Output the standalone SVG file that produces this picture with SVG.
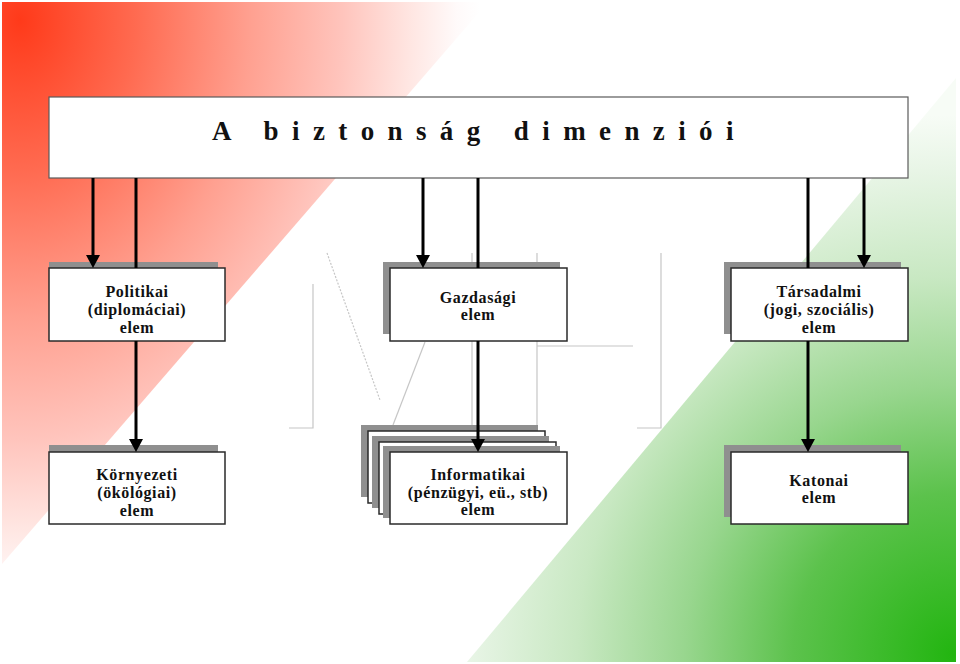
<svg xmlns="http://www.w3.org/2000/svg" width="960" height="664" viewBox="0 0 960 664">
<style>
.box{fill:#fff;stroke:#2a2a2a;stroke-width:1.5}
.sh{fill:#8f8f8f}
.lbl{font-family:"Liberation Serif","Times New Roman",serif;font-weight:bold;font-size:16px;letter-spacing:0.6px;fill:#111;text-anchor:middle}
.wm{fill:none;stroke:#c6c6c6;stroke-width:1.2}
.con{fill:none;stroke:#000;stroke-width:3;marker-end:url(#ah)}
</style>
<defs>
<radialGradient id="red" gradientUnits="userSpaceOnUse" cx="20" cy="20" r="460" gradientTransform="translate(20 20) scale(1 1.3) translate(-20 -20)">
<stop offset="0" stop-color="#ff3a1a"/>
<stop offset="0.25" stop-color="#ff6a50"/>
<stop offset="0.5" stop-color="#ffa090"/>
<stop offset="0.7" stop-color="#ffc4bc"/>
<stop offset="0.85" stop-color="#ffe6e2"/>
<stop offset="0.95" stop-color="#fffafa"/>
<stop offset="1" stop-color="#ffffff"/>
</radialGradient>
<radialGradient id="green" gradientUnits="userSpaceOnUse" cx="955" cy="655" r="540">
<stop offset="0" stop-color="#22b510"/>
<stop offset="0.3" stop-color="#5cc24c"/>
<stop offset="0.5" stop-color="#98d68e"/>
<stop offset="0.7" stop-color="#c8e8c2"/>
<stop offset="0.9" stop-color="#e8f5e6"/>
<stop offset="1" stop-color="#f7fcf6"/>
</radialGradient>
<marker id="ah" markerUnits="userSpaceOnUse" markerWidth="14" markerHeight="14" refX="7" refY="7" orient="auto">
<path d="M0,0 L13,7 L0,14 Z" fill="#000"/>
</marker>
</defs>
<rect width="960" height="664" fill="#fff"/>
<polygon points="2,2 488,2 2,564" fill="url(#red)"/>
<polygon points="956,78 956,662 467,662" fill="url(#green)"/>
<g id="watermark">
<path class="wm" d="M313 284 V428 H289"/>
<path class="wm" d="M327 253 L380 400" stroke-dasharray="2 1.5"/>
<path class="wm" d="M425 342 L393 425"/>
<path class="wm" d="M472 253 V425"/>
<path class="wm" d="M537 253 V428 M537 346 H633"/>
<path class="wm" d="M661 253 V428 H637"/>
</g>
<g id="title">
<rect x="49" y="97" width="859" height="81" fill="#fff" stroke="#5a5a5a" stroke-width="1.2"/>
<text x="212" y="140" font-family="'Liberation Serif','Times New Roman',serif" font-weight="bold" font-size="27" letter-spacing="13.4" fill="#111">A biztonság dimenziói</text>
</g>
<g id="politikai">
<rect class="sh" x="49" y="262" width="169" height="72"/>
<rect class="box" x="49" y="268" width="176" height="73"/>
<text class="lbl" x="137" y="297">Politikai</text>
<text class="lbl" x="137" y="315">(diplomáciai)</text>
<text class="lbl" x="137" y="333">elem</text>
</g>
<g id="gazdasagi">
<rect class="sh" x="383" y="262" width="177" height="72"/>
<rect class="box" x="390" y="268" width="177" height="73"/>
<text class="lbl" x="478" y="303">Gazdasági</text>
<text class="lbl" x="478" y="320">elem</text>
</g>
<g id="tarsadalmi">
<rect class="sh" x="724" y="262" width="177" height="72"/>
<rect class="box" x="731" y="268" width="177" height="73"/>
<text class="lbl" x="819" y="297">Társadalmi</text>
<text class="lbl" x="819" y="315">(jogi, szociális)</text>
<text class="lbl" x="819" y="333">elem</text>
</g>
<g id="kornyezeti">
<rect class="sh" x="49" y="445" width="169" height="72"/>
<rect class="box" x="49" y="452" width="176" height="72"/>
<text class="lbl" x="137" y="480">Környezeti</text>
<text class="lbl" x="137" y="498">(ökölógiai)</text>
<text class="lbl" x="137" y="516">elem</text>
</g>
<g id="informatikai">
<rect class="sh" x="361" y="425" width="177" height="72"/>
<rect class="box" x="368" y="431" width="177" height="72"/>
<rect class="sh" x="372" y="436" width="177" height="72"/>
<rect class="box" x="379" y="442" width="177" height="72"/>
<rect class="sh" x="383" y="446" width="177" height="72"/>
<rect class="box" x="390" y="452" width="177" height="72"/>
<text class="lbl" x="478" y="480">Informatikai</text>
<text class="lbl" x="478" y="498">(pénzügyi, eü., stb)</text>
<text class="lbl" x="478" y="515">elem</text>
</g>
<g id="katonai">
<rect class="sh" x="724" y="445" width="177" height="72"/>
<rect class="box" x="731" y="452" width="177" height="72"/>
<text class="lbl" x="819" y="486">Katonai</text>
<text class="lbl" x="819" y="503">elem</text>
</g>
<g id="connectors">
<path class="con" d="M93 178 V262"/>
<path class="con" d="M136 178 V268 M136 341 V446"/>
<path class="con" d="M423 178 V262"/>
<path class="con" d="M478 178 V268 M478 341 V446"/>
<path class="con" d="M808 178 V268 M808 341 V446"/>
<path class="con" d="M864 178 V262"/>
</g>
</svg>
